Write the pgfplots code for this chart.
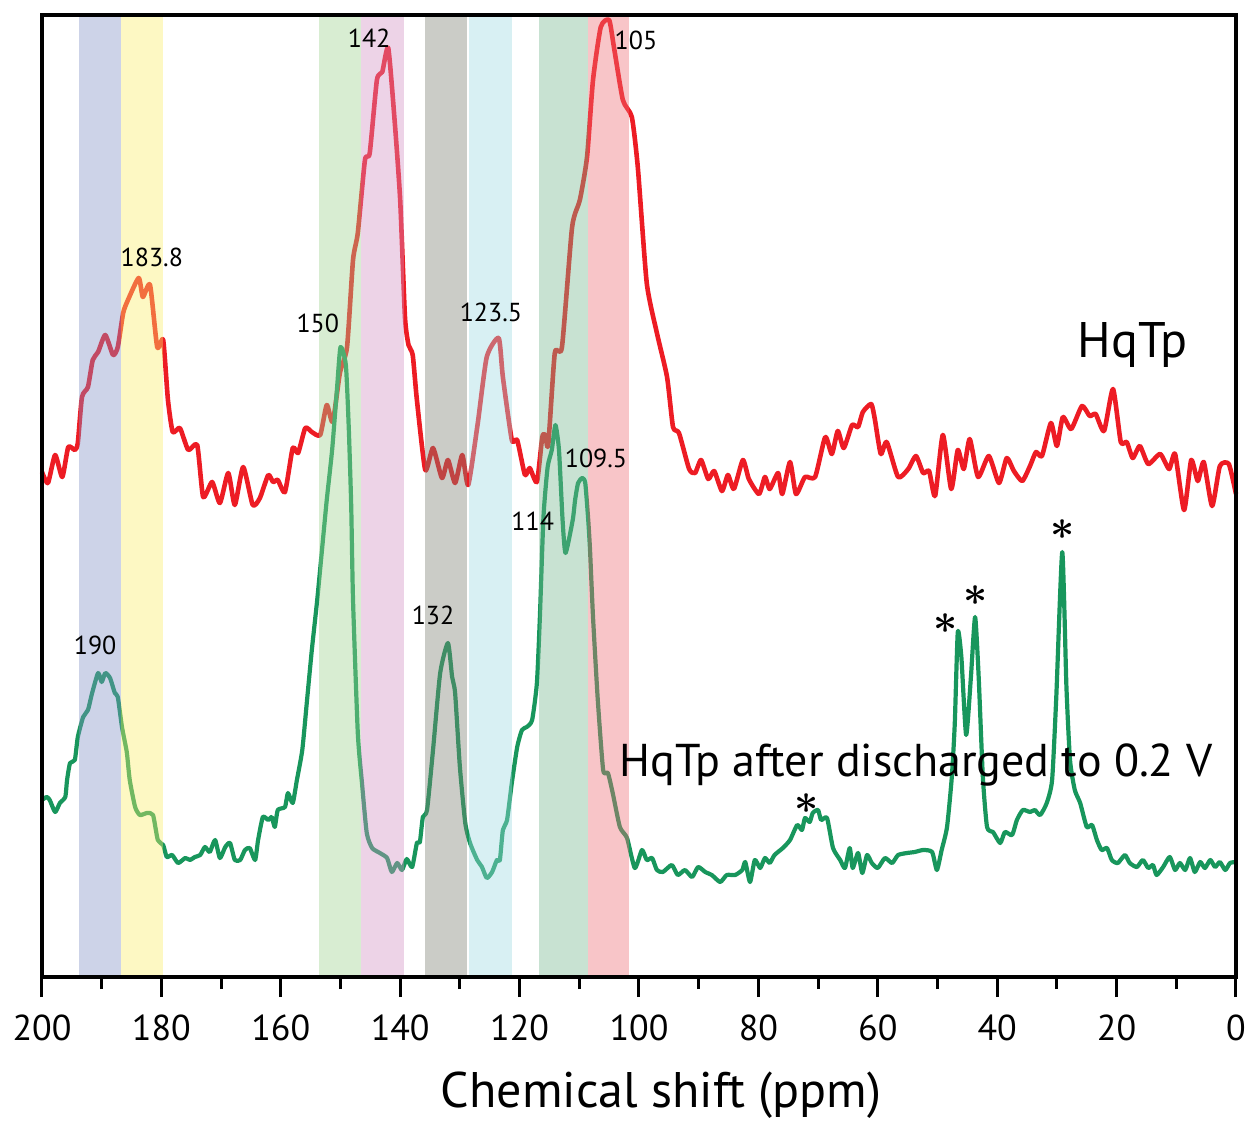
\documentclass[border=0pt]{standalone}
\usepackage{fontspec}
\setmainfont{PT Sans}
\usepackage{graphicx}
\usepackage{bm}
\usepackage{pgfplots}
\usepackage{pgfplotstable}
\pgfplotsset{compat=1.18}

\definecolor{specred}{RGB}{237,28,36}
\definecolor{specgreen}{RGB}{24,150,92}
\definecolor{bandblue}{RGB}{130,145,198}
\definecolor{bandyellow}{RGB}{250,237,105}
\definecolor{bandlgreen}{RGB}{158,210,143}
\definecolor{bandpink}{RGB}{210,145,195}
\definecolor{bandgray}{RGB}{125,128,115}
\definecolor{bandcyan}{RGB}{158,218,225}
\definecolor{banddgreen}{RGB}{118,183,143}
\definecolor{bandred}{RGB}{238,110,118}

\tikzset{
  peaklabel/.style={font=\fontsize{13}{15}\selectfont, inner sep=0pt},
  speclabel/.style={inner sep=0pt},
  sideband/.style={inner sep=0pt},
}

% pristine HqTp
\pgfplotstableread{
x y
200.0 505
199.0 494
197.8 522
196.6 500
195.6 530
194.5 527
194.0 534
193.3 580
192.3 590
191.5 617
190.6 625
189.4 642
188.1 622
187.3 630
186.4 664
185.6 677
183.8 699
183.1 680
181.9 692
180.7 630
179.7 637
178.9 577
178.1 545
176.9 549
175.5 527
174.0 532
173.0 480
171.5 495
170.2 474
168.8 504
167.7 472
166.3 510
164.7 472
163.5 479
162.1 502
161.3 495
160.5 497
159.3 485
158.0 529
157.1 524
155.9 549
154.8 545
153.4 542
152.3 572
151.3 555
150.1 604
148.9 630
147.9 717
147.1 744
145.9 817
145.1 824
143.9 897
143.0 905
142.0 929
140.9 854
140.0 777
139.2 660
138.6 632
137.9 622
137.2 577
135.8 507
134.5 529
133.0 499
132.0 517
130.8 494
129.6 522
128.6 492
127.0 554
125.5 620
123.5 639
122.8 600
121.3 537
120.4 537
119.1 502
118.3 509
117.1 495
116.2 540
115.7 542
115.2 532
114.1 624
112.9 630
111.2 750
109.9 777
108.7 820
107.7 897
106.4 950
105.0 957
104.2 930
102.7 877
101.2 860
100.2 810
98.7 694
97.0 644
95.3 600
94.3 550
93.3 544
91.6 508
90.6 504
89.6 517
88.4 498
87.4 506
86.1 486
85.1 502
84.1 488
82.6 517
81.6 498
79.9 483
78.9 500
78.1 488
76.7 504
76.0 483
74.7 515
73.7 483
72.2 500
70.5 500
68.8 540
67.7 523
66.7 546
65.7 529
64.3 552
63.3 550
62.5 565
61.1 573
60.5 558
59.5 523
58.5 535
56.6 500
54.9 508
53.6 521
52.4 504
51.4 506
50.4 481
49.1 542
47.7 488
46.6 527
45.6 508
44.6 538
43.2 500
41.4 521
39.7 494
38.4 519
37.2 506
35.8 496
34.5 511
33.5 525
32.5 521
31.0 554
30.0 531
29.0 560
27.6 548
25.8 571
24.5 561
23.5 563
22.1 546
20.6 588
19.3 535
18.3 535
17.3 519
16.1 531
14.7 513
12.7 523
11.2 508
10.2 523
8.7 467
7.5 517
6.4 496
5.4 515
4.0 471
2.7 511
1.2 513
0.0 483
}\pristine

% HqTp after discharge to 0.2 V
\pgfplotstableread{
x y
200.0 177
199.2 180
198.7 177
197.8 165
197.0 174
196.1 180
195.8 197
195.3 214
194.5 217
194.0 240
193.1 260
192.3 267
191.6 284
190.6 304
190.0 295
189.4 304
188.6 299
187.8 284
187.3 280
186.6 250
185.8 225
185.3 197
184.4 170
183.6 162
182.4 164
181.4 162
180.6 137
179.7 132
179.1 120
178.2 122
177.2 114
176.0 119
175.2 117
174.4 120
173.5 122
172.7 130
171.9 125
171.0 137
170.2 119
169.3 130
168.5 134
167.7 117
166.8 117
166.0 127
165.2 129
164.3 117
163.8 137
163.0 160
162.1 157
161.5 160
161.0 150
160.5 167
159.3 170
158.8 184
158.0 174
157.3 197
156.4 227
155.6 277
154.8 327
153.9 377
153.1 427
152.3 477
151.4 527
150.6 587
150.0 630
149.1 612
148.6 547
148.2 470
147.9 377
147.1 244
146.4 194
145.6 144
144.7 129
143.4 124
142.2 119
141.4 105
140.5 114
139.7 107
138.9 118
138.0 110
137.2 134
136.7 135
136.2 160
135.5 167
134.5 227
133.3 304
132.0 334
131.3 300
130.8 284
130.0 210
129.1 154
128.3 134
127.1 117
126.3 110
125.5 99
124.6 105
123.8 117
123.3 117
122.8 147
122.1 157
121.3 194
120.4 230
119.6 247
118.8 250
117.9 257
117.1 294
116.6 360
116.0 460
115.3 510
114.6 527
114.0 552
113.4 527
112.8 457
112.3 424
111.1 457
110.7 477
110.2 494
109.5 499
109.0 494
108.5 457
108.2 427
107.7 360
106.9 277
106.0 207
105.2 204
104.4 184
103.2 150
102.0 139
100.7 109
99.5 127
98.7 117
97.8 119
97.0 107
96.0 105
94.5 112
93.5 102
92.3 107
91.1 100
90.1 110
88.9 105
87.8 102
86.4 95
85.3 102
83.9 102
82.7 107
82.2 115
81.4 95
80.6 117
79.7 109
78.9 119
78.1 114
77.3 122
75.9 129
74.7 137
73.5 152
72.7 147
72.2 159
71.4 155
70.9 164
70.0 167
69.5 157
68.5 159
67.5 129
66.3 117
65.5 109
64.7 129
64.2 109
63.3 124
62.6 104
61.8 122
61.0 114
60.0 109
58.8 119
57.6 114
56.6 122
55.1 124
53.8 125
52.4 127
50.9 125
50.1 107
49.3 127
48.4 150
47.6 200
47.1 254
46.6 345
46.0 320
45.2 242
44.4 300
43.7 360
43.1 300
42.4 200
41.7 150
40.7 145
39.5 134
38.7 145
37.5 142
36.7 157
35.7 167
34.5 165
33.7 167
32.8 162
31.7 174
30.8 197
30.1 280
29.1 425
28.4 290
27.8 217
27.0 187
26.1 174
25.0 150
24.1 152
23.3 137
22.5 127
21.6 129
20.8 117
19.8 114
18.6 122
17.8 114
16.6 110
15.6 117
14.7 109
13.9 112
13.3 102
12.2 110
11.1 120
10.2 107
9.4 114
8.5 107
7.7 119
6.9 105
6.0 115
5.2 109
4.3 117
3.5 110
2.7 115
1.8 107
1.0 114
0.0 115
}\discharged

\begin{document}
\begin{tikzpicture}
\begin{axis}[
  scale only axis,
  width=597pt, height=481pt,
  xmin=0, xmax=200, ymin=0, ymax=962,
  x dir=reverse,
  axis on top,
  axis line style={line width=1.8pt},
  ytick=\empty,
  xtick={0,20,...,200},
  minor xtick={10,30,...,190},
  xtick pos=left,
  tick align=outside,
  major tick length=10pt,
  minor tick length=6pt,
  every tick/.style={black, line width=1.5pt},
  /pgf/number format/assume math mode=true,
  xticklabel style={font=\fontsize{18}{20}\selectfont, anchor=base, yshift=-21.5pt},
  xlabel={Chemical shift (ppm)},
  every axis x label/.style={at={(axis description cs:0.5,0)}, anchor=base,
    xshift=11pt, yshift=-65pt, font=\fontsize{25}{30}\selectfont},
  clip=false,
]
\coordinate (LL) at (axis description cs:0,0);
\coordinate (UR) at (axis description cs:1,1);

\addplot[specred, line width=2.3pt, line join=round, smooth, tension=0.35] table {\pristine};
\addplot[specgreen, line width=2.1pt, line join=round, smooth, tension=0.35] table {\discharged};

% assignment bands
\addplot[draw=none, fill=bandblue, fill opacity=0.4] coordinates {(193.8,0) (193.8,962) (186.8,962) (186.8,0)} -- cycle;
\addplot[draw=none, fill=bandyellow, fill opacity=0.4] coordinates {(186.8,0) (186.8,962) (179.7,962) (179.7,0)} -- cycle;
\addplot[draw=none, fill=bandlgreen, fill opacity=0.4] coordinates {(153.6,0) (153.6,962) (146.6,962) (146.6,0)} -- cycle;
\addplot[draw=none, fill=bandpink, fill opacity=0.4] coordinates {(146.6,0) (146.6,962) (139.4,962) (139.4,0)} -- cycle;
\addplot[draw=none, fill=bandgray, fill opacity=0.4] coordinates {(135.8,0) (135.8,962) (128.8,962) (128.8,0)} -- cycle;
\addplot[draw=none, fill=bandcyan, fill opacity=0.4] coordinates {(128.5,0) (128.5,962) (121.3,962) (121.3,0)} -- cycle;
\addplot[draw=none, fill=banddgreen, fill opacity=0.4] coordinates {(116.8,0) (116.8,962) (108.5,962) (108.5,0)} -- cycle;
\addplot[draw=none, fill=bandred, fill opacity=0.4] coordinates {(108.5,0) (108.5,962) (101.7,962) (101.7,0)} -- cycle;

% peak labels
\node[peaklabel] at (axis cs:181.6,720) {183.8};
\node[peaklabel] at (axis cs:145.2,939) {142};
\node[peaklabel] at (axis cs:100.5,937) {105};
\node[peaklabel] at (axis cs:153.8,654) {150};
\node[peaklabel] at (axis cs:124.8,665) {123.5};
\node[peaklabel] at (axis cs:107.2,519) {109.5};
\node[peaklabel] at (axis cs:117.8,456) {114};
\node[peaklabel] at (axis cs:134.5,362) {132};
\node[peaklabel] at (axis cs:191.1,332) {190};

% spectrum names
\node[speclabel, font=\fontsize{25}{28}\selectfont] at (axis cs:17.3,632) {HqTp};
\node[speclabel, font=\fontsize{23}{26}\selectfont] at (axis cs:53.6,212) {HqTp after discharged to 0.2 V};

% side-band markers
\node[sideband] at (axis cs:72.0,173) {\scalebox{2.1}{$\bm{\ast}$}};
\node[sideband] at (axis cs:48.6,353) {\scalebox{2.1}{$\bm{\ast}$}};
\node[sideband] at (axis cs:43.7,381) {\scalebox{2.1}{$\bm{\ast}$}};
\node[sideband] at (axis cs:29.1,447) {\scalebox{2.1}{$\bm{\ast}$}};
\end{axis}
\pgfresetboundingbox
\path[use as bounding box] ([xshift=-21pt,yshift=-72pt]LL) rectangle ([xshift=6pt,yshift=7.5pt]UR);
\end{tikzpicture}
\end{document}
